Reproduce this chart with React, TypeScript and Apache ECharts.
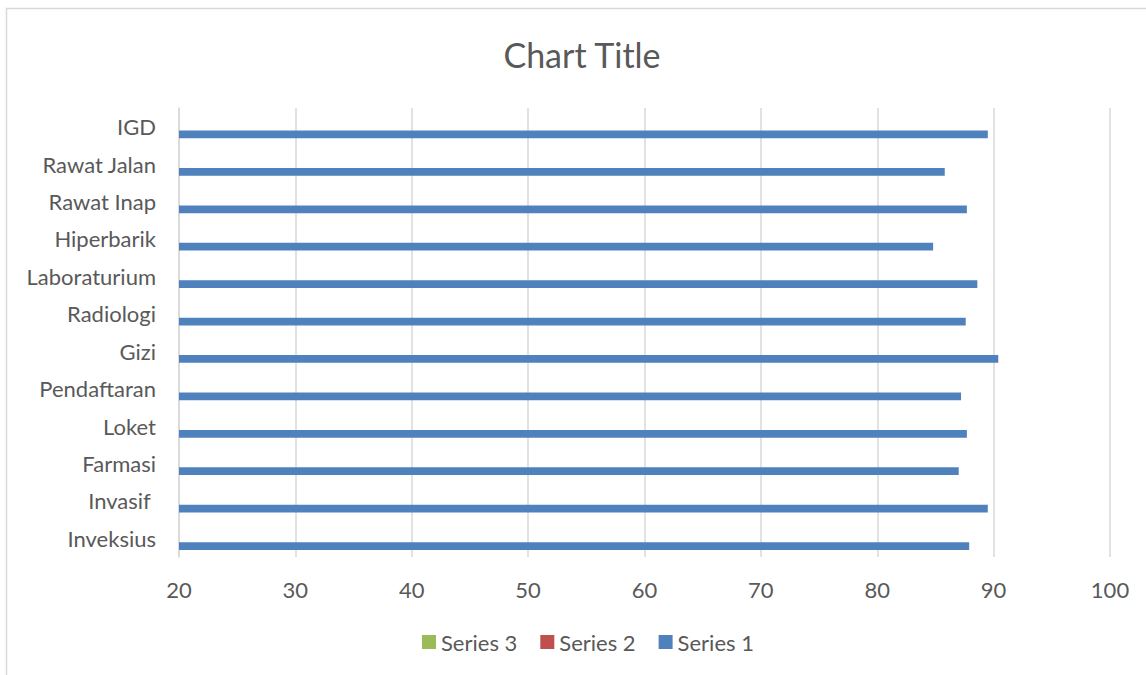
import React, { useEffect, useRef } from "react";
import * as echarts from "echarts";

const categories = [
  "Inveksius",
  "Invasif ",
  "Farmasi",
  "Loket",
  "Pendaftaran",
  "Gizi",
  "Radiologi",
  "Laboraturium",
  "Hiperbarik",
  "Rawat Inap",
  "Rawat Jalan",
  "IGD",
];
const series1Values = [87.9, 89.5, 87.0, 87.7, 87.2, 90.4, 87.6, 88.6, 84.8, 87.7, 85.8, 89.5];
const series2Values = [null, null, null, null, null, null, null, null, null, null, null, null];
const series3Values = [null, null, null, null, null, null, null, null, null, null, null, null];
const xTicks = { min: 20, max: 100, interval: 10 };

const FONT = "Lato";
const TEXT = "#595959";
const GRID = "#D9D9D9";

export default function App() {
  const ref = useRef<HTMLDivElement>(null);
  useEffect(() => {
    document.body.style.margin = "0";
    const chart = echarts.init(ref.current!, null, { renderer: "svg" });
    chart.setOption({
      animation: false,
      backgroundColor: "#FFFFFF",
      textStyle: { fontFamily: FONT },
      title: {
        text: "Chart Title",
        left: 582,
        top: 37,
        textAlign: "center",
        padding: 0,
        textStyle: { fontFamily: FONT, fontSize: 34, fontWeight: "normal", color: TEXT },
      },
      graphic: [
        {
          type: "rect",
          shape: { x: 6.5, y: 8.5, width: 1200, height: 700 },
          style: { fill: "none", stroke: GRID, lineWidth: 1.5 },
          silent: true,
        },
      ],
      legend: {
        bottom: 17,
        left: 417,
        icon: "rect",
        itemWidth: 14,
        itemHeight: 14,
        itemGap: 23,
        textStyle: { fontFamily: FONT, fontSize: 22, color: TEXT },
      },
      grid: { left: 179, right: 36, top: 108, bottom: 118, containLabel: false },
      xAxis: {
        type: "value",
        min: xTicks.min,
        max: xTicks.max,
        interval: xTicks.interval,
        axisLine: { show: false },
        axisTick: { show: false },
        axisLabel: { color: TEXT, fontFamily: FONT, fontSize: 22, margin: 21 },
        splitLine: { show: true, lineStyle: { color: GRID, width: 1.5 } },
      },
      yAxis: {
        type: "category",
        data: categories,
        axisLine: { show: true, lineStyle: { color: GRID, width: 1.5 } },
        axisTick: { show: false },
        axisLabel: { color: TEXT, fontFamily: FONT, fontSize: 22, margin: 23 },
        splitLine: { show: false },
      },
      series: [
        { name: "Series 3", type: "bar", data: series3Values, itemStyle: { color: "#9BBB59" }, barGap: "0%", barCategoryGap: "38%" },
        { name: "Series 2", type: "bar", data: series2Values, itemStyle: { color: "#C0504D" }, barGap: "0%", barCategoryGap: "38%" },
        { name: "Series 1", type: "bar", data: series1Values, itemStyle: { color: "#4F81BD" }, barGap: "0%", barCategoryGap: "38%" },
      ],
    });
    return () => chart.dispose();
  }, []);
  return <div ref={ref} style={{ width: 1146, height: 675 }} />;
}
